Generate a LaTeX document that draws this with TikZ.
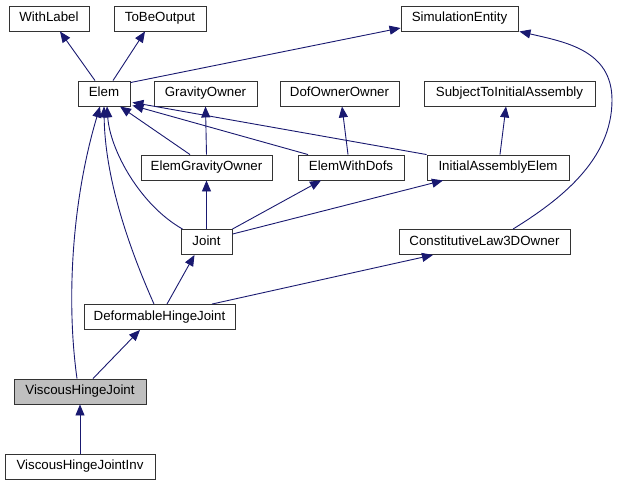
\documentclass[tikz,border=0pt]{standalone}
\usepackage{fontspec}
\setmainfont{Liberation Sans}
\usetikzlibrary{arrows.meta}
\definecolor{edgeblue}{HTML}{191970}
\definecolor{boxgray}{HTML}{BFBFBF}
\tikzset{
  cls/.style={draw=black!80, line width=0.9pt, fill=white, minimum height=25pt, inner sep=0pt, text height=9.6pt, text depth=2.8pt, font=\fontsize{13.3}{16}\selectfont},
  inh/.style={draw=edgeblue, line width=0.9pt, -{Triangle[length=11pt,width=9pt]}}
}
\begin{document}
\begin{tikzpicture}[x=1pt,y=-1pt]
\useasboundingbox (0,0) rectangle (618,485);
\node[cls, minimum width=80pt]  (WL)  at (49,18.5) {WithLabel};
\node[cls, minimum width=92pt]  (TBO) at (160,18.5) {ToBeOutput};
\node[cls, minimum width=117pt] (SE)  at (459.5,18.5) {SimulationEntity};
\node[cls, minimum width=52pt]  (EL)  at (104,93.5) {Elem};
\node[cls, minimum width=103pt] (GO)  at (205.5,93.5) {GravityOwner};
\node[cls, minimum width=119pt] (DOO) at (339.5,93.5) {DofOwnerOwner};
\node[cls, minimum width=171pt] (STIA) at (509.5,93.5) {SubjectToInitialAssembly};
\node[cls, minimum width=131pt] (EGO) at (206.5,167.5) {ElemGravityOwner};
\node[cls, minimum width=106pt] (EWD) at (351,167.5) {ElemWithDofs};
\node[cls, minimum width=142pt] (IAE) at (498,167.5) {InitialAssemblyElem};
\node[cls, minimum width=51pt]  (JT)  at (206.5,242) {Joint};
\node[cls, minimum width=171pt] (CL)  at (484.5,242) {ConstitutiveLaw3DOwner};
\node[cls, minimum width=151pt] (DHJ) at (159.5,317) {DeformableHingeJoint};
\node[cls, minimum width=132pt, fill=boxgray] (VHJ) at (80,391.5) {ViscousHingeJoint};
\node[cls, minimum width=150pt] (VHJI) at (80,466.5) {ViscousHingeJointInv};

\draw[inh] ([xshift=-9]EL.north) -- ([xshift=11]WL.south);
\draw[inh] ([xshift=9]EL.north) -- ([xshift=-15]TBO.south);
\draw[inh] ([yshift=-2]EL.north east) -- ([yshift=-9.5]SE.west);
\draw[inh] ([xshift=-16.5]EGO.north) -- ([xshift=16]EL.south);
\draw[inh] (EGO.north) -- (GO.south);
\draw[inh] ([xshift=-43]EWD.north) -- ([xshift=2,yshift=1]EL.south east);
\draw[inh] ([xshift=-3]EWD.north) -- ([xshift=2.5]DOO.south);
\draw[inh] (IAE.north west) -- ([xshift=2,yshift=4]EL.south east);
\draw[inh] ([xshift=2]IAE.north) -- ([xshift=-3.5]STIA.south);
\draw[inh] ([xshift=2]JT.north west) .. controls (140,205) and (110,150) .. ([xshift=3]EL.south);
\draw[inh] (JT.north) -- (EGO.south);
\draw[inh] (JT.north east) -- ([xshift=-30]EWD.south);
\draw[inh] ([yshift=-5]JT.north east) -- ([xshift=-55]IAE.south);
\draw[inh] ([xshift=28.5]CL.north) .. controls (560,200) and (612,160) .. (612,100) .. controls (612,50) and (565,42) .. ([xshift=1]SE.south east);
\draw[inh] ([xshift=-5.5]DHJ.north) .. controls (130,250) and (105,180) .. ([xshift=0]EL.south);
\draw[inh] ([xshift=7.5]DHJ.north) -- ([xshift=-12]JT.south);
\draw[inh] ([xshift=52.5]DHJ.north) -- ([xshift=-51.5]CL.south);
\draw[inh] ([xshift=-3]VHJ.north) .. controls (66,300) and (72,200) .. ([xshift=-4]EL.south);
\draw[inh] ([xshift=13]VHJ.north) -- ([xshift=-19.5]DHJ.south);
\draw[inh] (VHJI.north) -- (VHJ.south);
\end{tikzpicture}
\end{document}
